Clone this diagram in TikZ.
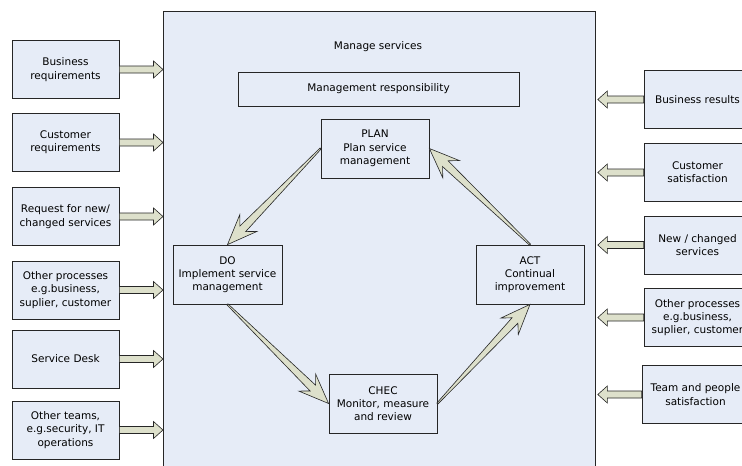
\documentclass[tikz,border=0pt]{standalone}
\usepackage{fontspec}
\setmainfont{DejaVu Sans}
\usepackage{xcolor}
\usetikzlibrary{calc, math, positioning}
\definecolor{myblue}{RGB}{230,236,247}
\definecolor{mygreen}{RGB}{221,224,203}

\tikzset{
  box/.style={draw=black!85, fill=myblue, line width=0.8pt, align=center, inner sep=0pt,
    minimum width=107, minimum height=58, font=\fontsize{10.5}{13.3}\selectfont},
  arr/.style={draw=black!85, fill=mygreen, line width=0.6pt, line join=miter},
}

% tapered arrow of the cycle, #1 start, #2 tip
\newcommand{\cyclearrow}[2]{%
  \coordinate (hb) at ($(#2)!30pt!(#1)$);
  \coordinate (hn) at ($(#2)!22pt!(#1)$);
  \draw[arr] ($(#1)!0.7pt!90:(#2)$) -- ($(hn)!4pt!-90:(#1)$) -- ($(hb)!12pt!-90:(#1)$)
    -- (#2) -- ($(hb)!12pt!90:(#1)$) -- ($(hn)!4pt!90:(#1)$) -- ($(#1)!0.7pt!-90:(#2)$) -- cycle;
}
% straight arrow into / out of the main box
\newcommand{\sidearrow}[2]{%
  \coordinate (hb) at ($(#2)!9.5pt!(#1)$);
  \draw[arr] ($(#1)!3.5pt!90:(#2)$) -- ($(hb)!3.5pt!-90:(#1)$) -- ($(hb)!8.5pt!-90:(#1)$)
    -- (#2) -- ($(hb)!8.5pt!90:(#1)$) -- ($(hb)!3.5pt!90:(#1)$) -- ($(#1)!3.5pt!-90:(#2)$) -- cycle;
}

\begin{document}
\begin{tikzpicture}[x=1pt, y=-1pt]
\tikzmath{
\xl=65.5;  % centre of left boxes
\xr=697.5; % centre of right boxes
}
\useasboundingbox (0,0) rectangle (742,466);
\clip (0,0) rectangle (742,466);

%main box
\node[box, anchor=north west, minimum width=432, minimum height=480] (msvc) at (163,11) {};
\node[font=\fontsize{10.5}{13.3}\selectfont] (title) at (378,47) {Manage services};
\node[box, minimum width=281, minimum height=34] (mresp) at (378.5,89) {Management responsibility};

%plan do check act
\node[box, minimum width=108, minimum height=59] (plan) at (375,148.5) {PLAN\\Plan service\\management};
\node[box, minimum width=109, minimum height=59] (do) at (227.5,274.5) {DO\\Implement service\\management};
\node[box, minimum width=108, minimum height=59] (act) at (530,274.5) {ACT\\Continual\\improvement};
\node[box, minimum width=108, minimum height=59] (chec) at (383,403.5) {CHEC\\Monitor, measure\\and review};

\cyclearrow{plan.west}{do.north}
\cyclearrow{do.south}{chec.west}
\cyclearrow{chec.east}{act.south}
\cyclearrow{act.north}{plan.east}

%inputs
\node[box] (in1) at (\xl,69.5) {Business\\requirements};
\node[box] (in2) at (\xl,142.5) {Customer\\requirements};
\node[box] (in3) at (\xl,216.5) {Request for new/\\changed services};
\node[box] (in4) at (\xl,290) {Other processes\\e.g.business,\\suplier, customer};
\node[box] (in5) at (\xl,359) {Service Desk};
\node[box] (in6) at (\xl,430) {Other teams,\\e.g.security, IT\\operations};

\foreach \i in {1,...,6}{
  \coordinate (t\i) at (in\i.east -| msvc.west);
  \sidearrow{in\i.east}{t\i}
}

%outputs
\node[box] (out1) at (\xr,99.5) {Business results};
\node[box] (out2) at (\xr,172.5) {Customer\\satisfaction};
\node[box] (out3) at (\xr,245) {New / changed\\services};
\node[box] (out4) at (\xr,317.5) {Other processes\\e.g.business,\\suplier, customer};
\node[box] (out5) at (\xr-2,394.5) {Team and people\\satisfaction};

\foreach \i in {1,...,5}{
  \coordinate (s\i) at ($(out\i.west -| msvc.east)+(2,0)$);
  \sidearrow{out\i.west}{s\i}
}
\end{tikzpicture}
\end{document}
